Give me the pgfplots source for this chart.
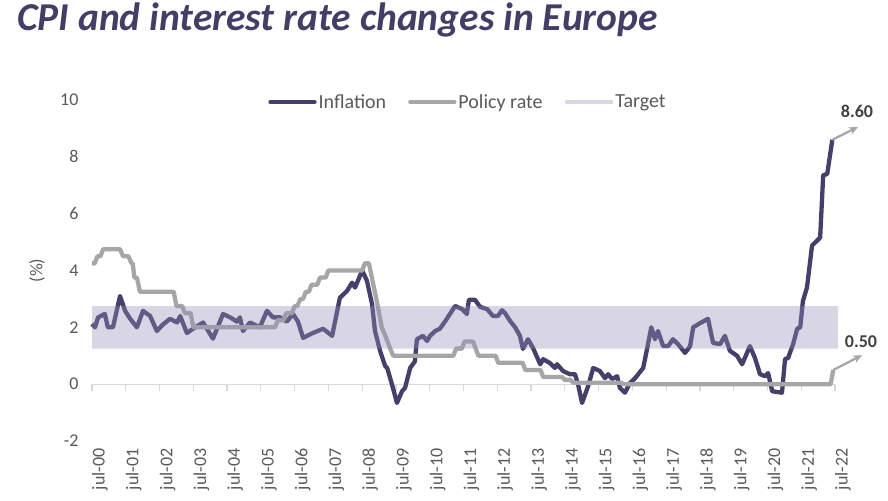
\documentclass[border=0pt]{standalone}
\usepackage{fontspec}
\setmainfont{Carlito}
\usepackage{pgfplots}
\pgfplotsset{compat=1.18}
\usetikzlibrary{arrows.meta}
\definecolor{infl}{HTML}{45406A}
\definecolor{pol}{HTML}{A6A6A6}
\definecolor{band}{HTML}{948EB8}
\definecolor{bandleg}{HTML}{D9D7E6}
\definecolor{txt}{HTML}{595959}
\definecolor{ttl}{HTML}{433E65}
\definecolor{axl}{HTML}{D9D9D9}
\definecolor{lab}{HTML}{404040}
\begin{document}
\begin{tikzpicture}[x=1bp,y=1bp]
\useasboundingbox (0,0) rectangle (888,501);
\node[anchor=base west, inner sep=0, text=ttl, font=\fontsize{39.5bp}{44bp}\selectfont\bfseries\itshape] at (17,470) {CPI and interest rate changes in Europe};
\begin{axis}[at={(92bp,60bp)}, anchor=south west, scale only axis, width=743bp, height=341bp,
 xmin=2000.5, xmax=2022.5, ymin=-2, ymax=10, clip=false,
 axis line style={draw=none}, major tick length=0pt,
 ytick={-2,0,2,4,6,8,10},
 xtick={2000.5,2001.5,2002.5,2003.5,2004.5,2005.5,2006.5,2007.5,2008.5,2009.5,2010.5,2011.5,2012.5,2013.5,2014.5,2015.5,2016.5,2017.5,2018.5,2019.5,2020.5,2021.5,2022.5},
 xticklabels={jul-00,jul-01,jul-02,jul-03,jul-04,jul-05,jul-06,jul-07,jul-08,jul-09,jul-10,jul-11,jul-12,jul-13,jul-14,jul-15,jul-16,jul-17,jul-18,jul-19,jul-20,jul-21,jul-22},
 ticklabel style={text=txt, font=\fontsize{18bp}{20bp}\selectfont},
 /pgf/number format/assume math mode=true,
 yticklabel style={xshift=-10bp},
 xticklabel style={rotate=90, anchor=east, yshift=-8bp, xshift=-4bp},
 ylabel={(\%)},
 ylabel style={at={(rel axis cs:-0.074,0.5)}, anchor=center, text=txt, font=\fontsize{18bp}{20bp}\selectfont},
 legend columns=3,
 legend style={draw=none, fill=none, at={(0.506,0.994)}, anchor=center, text=txt, font=\fontsize{20bp}{22bp}\selectfont,
   /tikz/every even column/.append style={column sep=20bp}, inner sep=0pt},
 legend image code/.code={\draw[#1, line cap=round] (0bp,0bp) -- (44bp,0bp);},
]
\draw[axl, line width=1.2bp] (axis cs:2000.5,0) -- (axis cs:2022.5,0);
\pgfplotsinvokeforeach{2000.5,2001.5,2002.5,2003.5,2004.5,2005.5,2006.5,2007.5,2008.5,2009.5,2010.5,2011.5,2012.5,2013.5,2014.5,2015.5,2016.5,2017.5,2018.5,2019.5,2020.5,2021.5,2022.5}{\draw[axl, line width=1.2bp] (axis cs:#1,0) -- ([yshift=-7bp]axis cs:#1,0);}

\addplot[infl, line width=4.3bp, line join=round] coordinates {
(2000.50,2.12)(2000.59,2.0)(2000.68,2.35)(2000.88,2.47)(2000.97,2.0)(2001.12,2.0)
(2001.33,3.1)(2001.48,2.58)(2001.63,2.3)(2001.83,2.0)(2002.01,2.58)(2002.22,2.4)
(2002.42,1.87)(2002.60,2.1)(2002.81,2.3)(2003.02,2.17)(2003.11,2.4)(2003.31,1.8)
(2003.49,1.95)(2003.79,2.17)(2004.08,1.6)(2004.38,2.47)(2004.59,2.35)(2004.79,2.2)
(2004.88,2.35)(2004.97,1.87)(2005.18,2.17)(2005.47,2.0)(2005.68,2.58)(2005.86,2.35)
(2006.07,2.35)(2006.27,2.2)(2006.45,2.47)(2006.60,2.2)(2006.75,1.63)(2007.04,1.8)
(2007.34,1.95)(2007.61,1.7)(2007.84,3.04)(2008.05,3.28)(2008.20,3.57)(2008.29,3.4)
(2008.50,4.0)(2008.64,3.64)(2008.79,2.83)(2008.88,1.87)(2009.03,1.17)(2009.18,0.64)
(2009.24,0.57)(2009.38,0.0)(2009.53,-0.66)(2009.68,-0.25)(2009.77,-0.13)(2009.92,0.57)
(2010.06,0.8)(2010.12,1.58)(2010.30,1.7)(2010.42,1.52)(2010.51,1.7)(2010.66,1.87)
(2010.80,1.95)(2010.95,2.2)(2011.10,2.47)(2011.25,2.75)(2011.46,2.64)(2011.60,2.47)
(2011.66,2.97)(2011.84,2.97)(2011.99,2.72)(2012.20,2.64)(2012.37,2.4)(2012.52,2.4)
(2012.64,2.6)(2012.73,2.5)(2012.88,2.22)(2013.03,2.0)(2013.17,1.7)(2013.26,1.24)
(2013.41,1.58)(2013.56,1.27)(2013.77,0.7)(2013.86,0.88)(2014.06,0.74)(2014.21,0.57)
(2014.27,0.7)(2014.45,0.46)(2014.65,0.35)(2014.80,0.35)(2014.89,0.0)(2015.01,-0.66)
(2015.19,-0.07)(2015.34,0.57)(2015.54,0.46)(2015.69,0.21)(2015.78,0.35)(2015.90,0.18)
(2016.05,0.28)(2016.13,-0.13)(2016.28,-0.3)(2016.43,0.04)(2016.58,0.21)(2016.82,0.57)
(2016.94,1.27)(2017.06,2.0)(2017.17,1.58)(2017.26,1.87)(2017.41,1.34)(2017.56,1.34)
(2017.70,1.58)(2017.85,1.41)(2018.06,1.1)(2018.21,1.34)(2018.30,2.0)(2018.51,2.15)
(2018.74,2.3)(2018.89,1.45)(2019.10,1.41)(2019.24,1.7)(2019.39,1.17)(2019.60,1.0)
(2019.75,0.7)(2019.98,1.34)(2020.13,0.92)(2020.28,0.35)(2020.43,0.28)(2020.52,0.39)
(2020.64,-0.25)(2020.93,-0.3)(2021.02,0.88)(2021.11,0.92)(2021.26,1.41)(2021.38,1.95)
(2021.47,2.0)(2021.55,2.93)(2021.67,3.4)(2021.82,4.88)(2021.97,5.05)(2022.06,5.16)
(2022.15,7.35)(2022.27,7.4)(2022.42,8.6)
};
\addlegendentry{Inflation}
\addplot[pol, line width=4.3bp, line join=round] coordinates {
(2000.50,4.25)(2000.58,4.25)(2000.66,4.5)(2000.75,4.5)(2000.83,4.75)(2001.33,4.75)
(2001.42,4.5)(2001.58,4.5)(2001.67,4.25)(2001.71,4.25)(2001.75,3.75)(2001.83,3.75)
(2001.92,3.25)(2002.92,3.25)(2003.0,2.75)(2003.17,2.75)(2003.25,2.5)(2003.42,2.5)
(2003.5,2.0)(2005.92,2.0)(2006.0,2.25)(2006.17,2.25)(2006.25,2.5)(2006.42,2.5)
(2006.5,2.75)(2006.58,2.75)(2006.67,3.0)(2006.75,3.0)(2006.83,3.25)(2006.92,3.25)
(2007.0,3.5)(2007.17,3.5)(2007.25,3.75)(2007.42,3.75)(2007.5,4.0)(2008.5,4.0)
(2008.58,4.25)(2008.7,4.25)(2008.83,3.5)(2008.92,3.0)(2009.0,2.5)(2009.08,2.0)
(2009.17,1.75)(2009.25,1.5)(2009.33,1.25)(2009.42,1.0)(2011.2,1.0)(2011.28,1.25)
(2011.45,1.25)(2011.53,1.5)(2011.78,1.5)(2011.86,1.25)(2011.94,1.0)(2012.45,1.0)
(2012.53,0.75)(2013.25,0.75)(2013.33,0.5)(2013.78,0.5)(2013.86,0.25)(2014.42,0.25)
(2014.5,0.15)(2014.67,0.15)(2014.75,0.05)(2016.17,0.05)(2016.25,0.0)(2022.37,0.0)
(2022.45,0.5)
};
\addlegendentry{Policy rate}
\addplot[draw=none, fill=band, fill opacity=0.36, forget plot] coordinates {
(2000.5,1.25)(2022.59,1.25)(2022.59,2.75)(2000.5,2.75)(2000.5,1.25)};
\addlegendimage{bandleg, line width=4.8bp}
\addlegendentry{Target}
\draw[pol, line width=2.2bp, -{Stealth[length=9bp,width=8bp]}] (axis cs:2022.42,8.6) -- (axis cs:2023.18,9.05);
\draw[pol, line width=2.2bp, -{Stealth[length=9bp,width=8bp]}] (axis cs:2022.45,0.5) -- (axis cs:2023.3,1.02);
\node[text=lab, font=\fontsize{18bp}{20bp}\selectfont\bfseries] at (axis cs:2023.15,9.61) {8.60};
\node[text=lab, font=\fontsize{18bp}{20bp}\selectfont\bfseries] at (axis cs:2023.27,1.48) {0.50};
\end{axis}
\end{tikzpicture}
\end{document}
